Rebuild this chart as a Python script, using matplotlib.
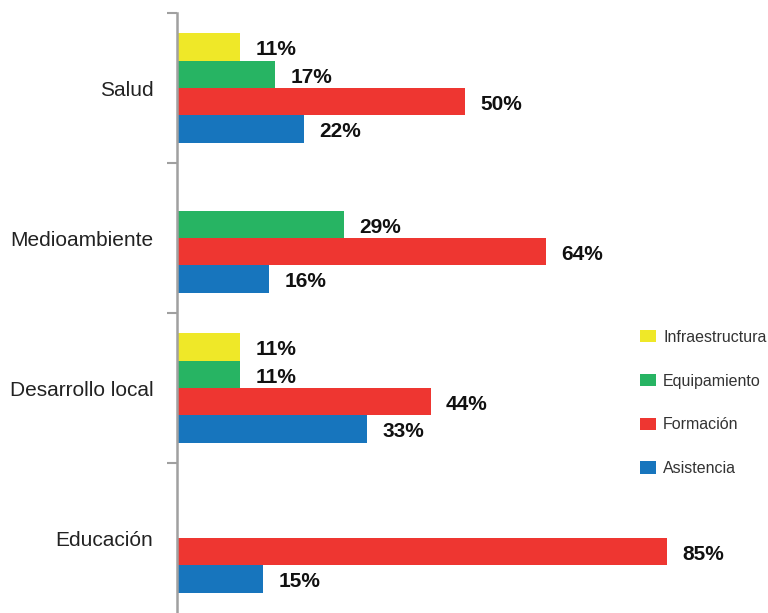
import matplotlib.pyplot as plt
import numpy as np

# Share of projects per sector and type of support (%)
categories = ["Salud", "Medioambiente", "Desarrollo local", "Educación"]
series = ["Infraestructura", "Equipamiento", "Formación", "Asistencia"]
infraestructura = [11, None, 11, None]
equipamiento = [17, 29, 11, None]
formacion = [50, 64, 44, 85]
asistencia = [22, 16, 33, 15]

colors = ["#EFE828", "#27B463", "#EE3631", "#1775BD"]

plt.rcParams["font.family"] = ["Liberation Sans", "DejaVu Sans"]

fig = plt.figure(figsize=(7.68, 6.13), dpi=100)
ax = fig.add_axes([177 / 768, 0, 591 / 768, 600 / 613])

ypos = np.arange(len(categories))[::-1]  # first category on top
bar_h = 0.183
values = [infraestructura, equipamiento, formacion, asistencia]

for i, (name, vals, color) in enumerate(zip(series, values, colors)):
    offset = (1.5 - i) * bar_h
    ys = [y + offset for y, v in zip(ypos, vals) if v is not None]
    ws = [v for v in vals if v is not None]
    bars = ax.barh(ys, ws, height=bar_h, color=color, label=name)
    for rect, w in zip(bars, ws):
        ax.annotate(f"{w}%", xy=(w, rect.get_y() + rect.get_height() / 2),
                    xytext=(11, -2), textcoords="offset points",
                    ha="left", va="center", fontsize=15,
                    fontweight="bold", color="#111111")

ax.set_xlim(0, 102.5)
ax.set_ylim(-0.5, len(categories) - 0.5)

ax.set_yticks(ypos)
ax.set_yticklabels(categories, fontsize=15, color="#222222")
# separators between sectors (the bottom one falls off the figure)
ax.set_yticks(np.arange(0.5, len(categories), 1), minor=True)
ax.tick_params(axis="y", which="major", length=0, pad=17)
ax.tick_params(axis="y", which="minor", length=7.2, width=1.5,
               color="#A0A0A0")
ax.set_xticks([])

for side in ("top", "right", "bottom"):
    ax.spines[side].set_visible(False)
ax.spines["left"].set_color("#A0A0A0")
ax.spines["left"].set_linewidth(1.8)

ax.legend(loc="center left", bbox_to_anchor=(640 / 768, (613 - 403) / 613),
          bbox_transform=fig.transFigure, frameon=False, fontsize=11.5,
          labelcolor="#333333", handlelength=1.0, handleheight=0.8,
          handletextpad=0.45, labelspacing=1.8, borderpad=0,
          borderaxespad=0)

fig.savefig("out.png", dpi=100)
plt.close(fig)
